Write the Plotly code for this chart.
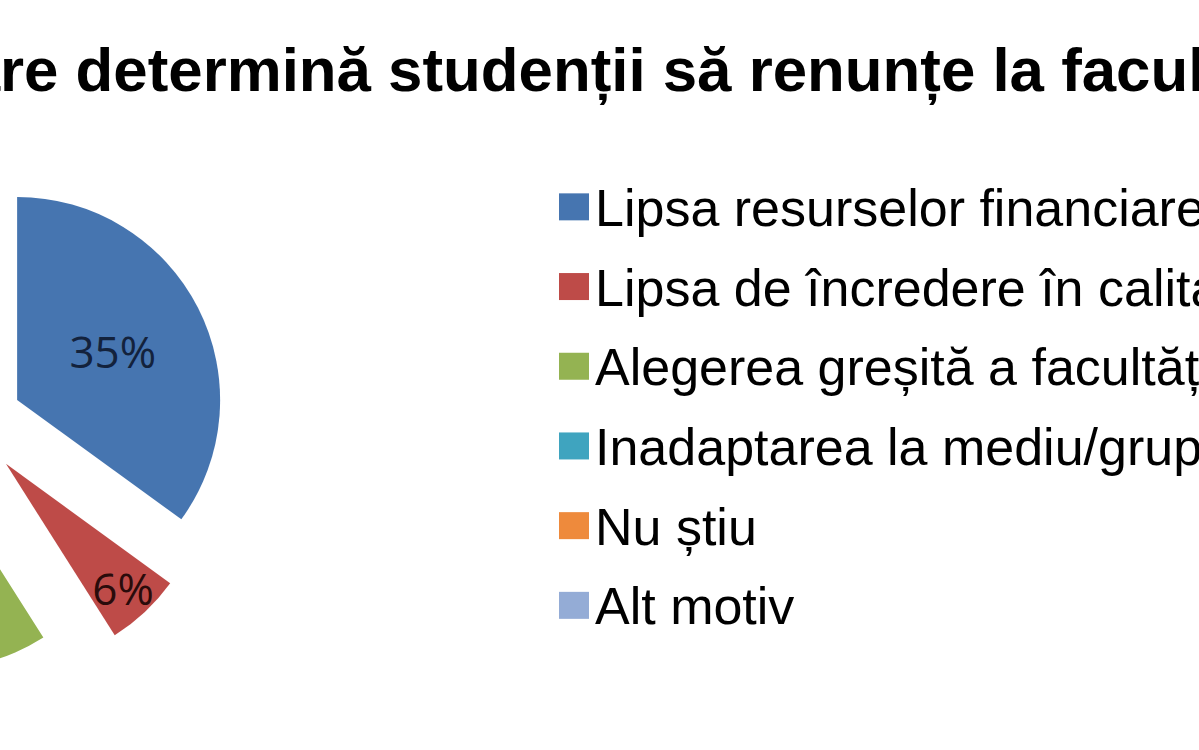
"""
Exploded pie chart: motives for students dropping out (cropped view)
"""

import plotly.graph_objects as go

# data
labels = [
    "Lipsa resurselor financiare",
    "Lipsa de încredere în calitatea învățământului",
    "Alegerea greșită a facultății",
    "Inadaptarea la mediu/grup",
    "Nu știu",
    "Alt motiv",
]
values = [35, 6, 40, 7, 8, 4]
colors = ["#4675b0", "#be4b48", "#94b352", "#3fa4bf", "#ee8a3c", "#94acd6"]
label_colors = ["#13223c", "#2a0b0b", "#1e2610", "#0c2a33", "#3a2008", "#1f2a3c"]
title_text = "Care determină studenții să renunțe la facultate?"

# the original picture is a crop, the left part of the chart is cut away
SHIFT = 320
W, H = 2300, 750

pie_cx, pie_cy = SHIFT - 31, 424.5   # pixel centre of the pie in the figure
pie_r = 203
pull = 0.266
box = 2 * pie_r * (1 + pull)

legend_labels = ['<span style="font-size:52px">%s</span>' % l for l in labels]

fig = go.Figure(
    go.Pie(
        labels=legend_labels,
        values=values,
        sort=False,
        direction="clockwise",
        rotation=0,
        pull=[pull] * len(values),
        marker=dict(colors=colors, line=dict(width=0)),
        texttemplate="%{value}%",
        textposition="inside",
        insidetextorientation="horizontal",
        textfont=dict(family="Open Sans", size=44, color=label_colors),
        hovertemplate="%{label}<br>%{value}%<extra></extra>",
        domain=dict(
            x=[(pie_cx - box / 2) / W, (pie_cx + box / 2) / W],
            y=[1 - (pie_cy + box / 2) / H, 1 - (pie_cy - box / 2) / H],
        ),
    )
)

fig.update_layout(
    width=W,
    height=H,
    margin=dict(l=0, r=0, t=0, b=0, autoexpand=False),
    paper_bgcolor="white",
    plot_bgcolor="white",
    uniformtext=dict(mode="show", minsize=44),
    title=dict(
        text=title_text,
        font=dict(family="Liberation Sans", size=61.8, color="black", weight=700),
        xref="container",
        yref="container",
        x=(SHIFT - 79) / W,
        xanchor="left",
        y=1 - 69 / H,
        yanchor="middle",
    ),
    legend=dict(
        x=(SHIFT + 555) / W,
        xanchor="left",
        y=1 - 158 / H,
        yanchor="top",
        font=dict(family="Liberation Sans", size=59, color="black"),
        bgcolor="rgba(0,0,0,0)",
    ),
    showlegend=True,
)

post_js = """
document.body.style.margin = '0';
document.body.style.overflow = 'hidden';
var gd = document.getElementById('{plot_id}');
gd.style.marginLeft = '-%dpx';
gd.querySelectorAll('.legendpie').forEach(function(p) {
    p.setAttribute('transform', 'translate(19,4) scale(2.5,2.25)');
});
""" % SHIFT

fig.write_html("out.html", post_script=post_js)
